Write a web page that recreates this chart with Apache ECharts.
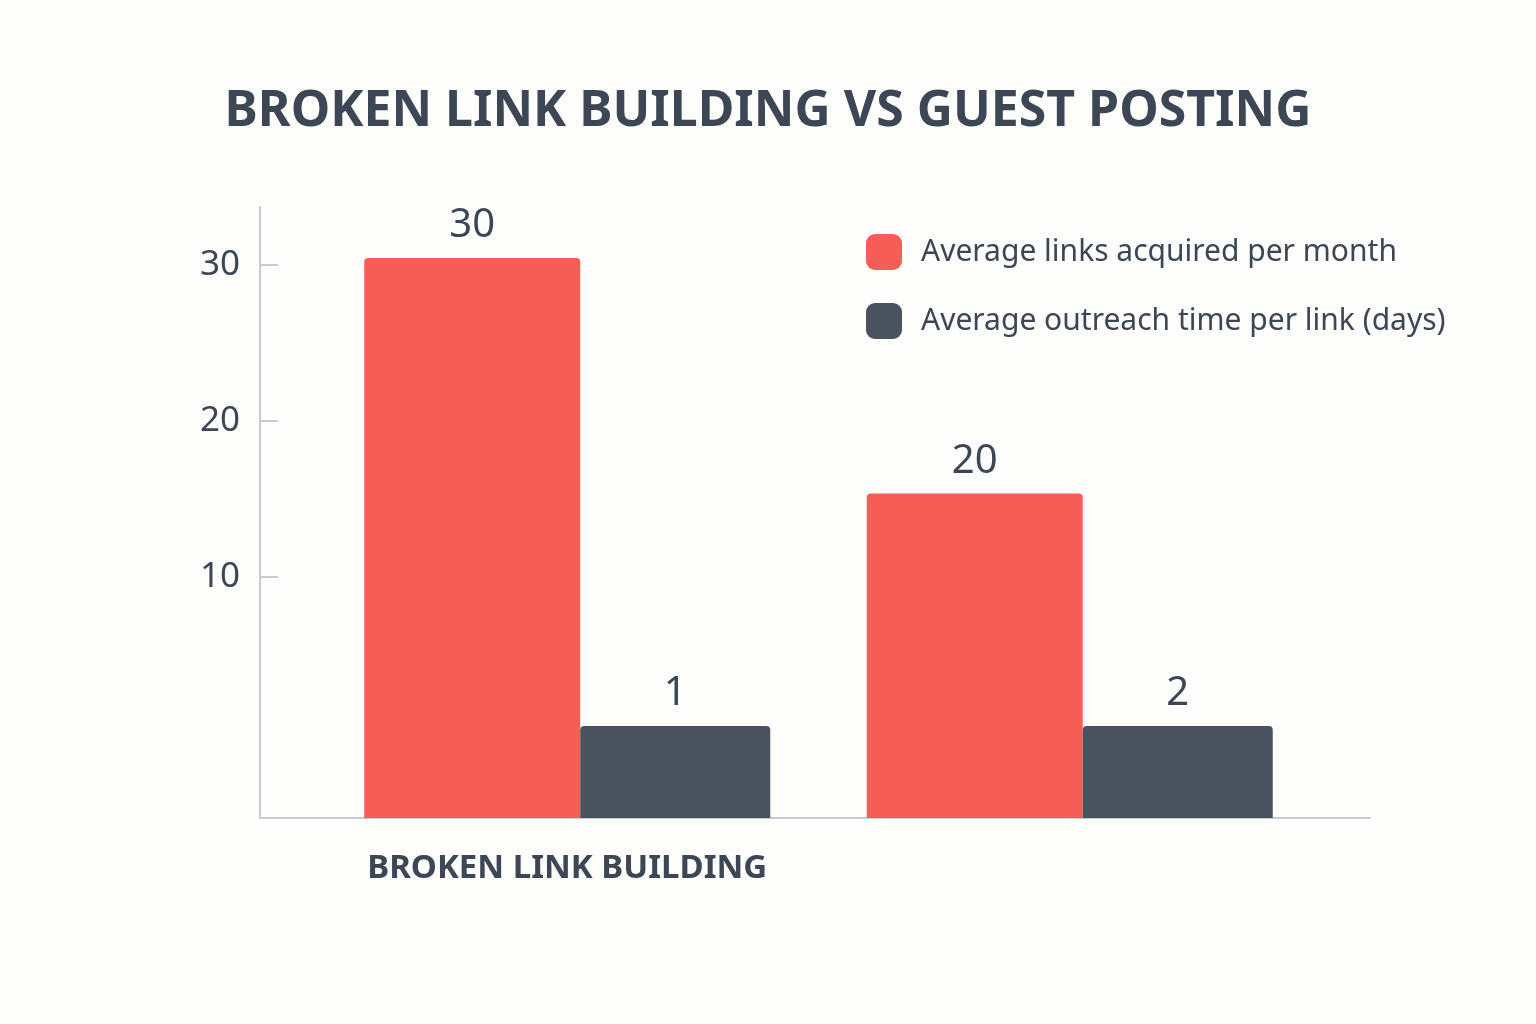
<!DOCTYPE html>
<html>
<head>
<meta charset="utf-8">
<script src="https://cdn.jsdelivr.net/npm/echarts@6/dist/echarts.min.js"></script>
<style>html,body{margin:0;background:#fdfdfc}#main{width:1536px;height:1024px}</style>
</head>
<body>
<div id="main"></div>
<script>
// values as labelled in the picture
var categories = ['BROKEN LINK BUILDING', 'GUEST POSTING'];
var linksLabels = [30, 20];
var timeLabels = [1, 2];
// bar heights as drawn (picture axis units, baseline = 0, offset 5.45)
var linksHeights = [35.9, 20.8];
var timeHeights = [5.9, 5.9];
var axisOffset = 5.45;
var tickValues = [15.45, 25.45, 35.45];

var myChart = echarts.init(document.getElementById('main'));
var font = '"Noto Sans", "Open Sans", sans-serif';
var yMax = 39.17;
var options = {
	backgroundColor: '#fdfdfc',
	title: {
		text: 'BROKEN LINK BUILDING VS GUEST POSTING',
		left: 'center',
		top: 82,
		textStyle: {fontFamily: font, fontSize: 50, fontWeight: 'bold', color: '#3d4654'}
	},
	legend: {
		left: 861,
		top: 229,
		orient: 'vertical',
		itemWidth: 36,
		itemHeight: 36,
		itemGap: 33,
		icon: 'roundRect',
		textStyle: {fontFamily: font, fontSize: 30, color: '#3d4654', padding: [0, 0, 0, 14]},
		data: ['Average links acquired per month', 'Average outreach time per link (days)']
	},
	grid: [
		{left: 260, right: 166, top: 207, bottom: 206},	// axis frame
		{left: 316, right: 215, top: 207, bottom: 206}	// bars
	],
	xAxis: [
		{
			type: 'category', gridIndex: 0, data: categories,
			axisLine: {lineStyle: {color: '#c8cbd0', width: 2}},
			axisTick: {show: false}, axisLabel: {show: false}
		},
		{
			type: 'category', gridIndex: 1, data: categories,
			axisLine: {show: false}, axisTick: {show: false},
			axisLabel: {fontFamily: font, fontSize: 33, fontWeight: 'bold', color: '#3d4654', margin: 34}
		}
	],
	yAxis: [
		{
			type: 'value', gridIndex: 0, min: 0, max: yMax,
			splitLine: {show: false},
			axisLine: {show: true, lineStyle: {color: '#c8cbd0', width: 2}},
			axisTick: {show: true, length: 18, inside: true, customValues: tickValues, lineStyle: {color: '#c8cbd0', width: 2}},
			axisLabel: {
				customValues: tickValues,
				fontFamily: font, fontSize: 35, color: '#3d4654', margin: 20,
				formatter: function (v) { return Math.round(v - axisOffset); }
			}
		},
		{
			type: 'value', gridIndex: 1, min: 0, max: yMax, show: false
		}
	],
	series: [
		{
			name: 'Average links acquired per month',
			type: 'bar', xAxisIndex: 1, yAxisIndex: 1,
			data: linksHeights,
			barWidth: 216,
			barGap: '0%',
			itemStyle: {color: '#f65d57', borderRadius: [4, 4, 0, 0]},
			label: {
				show: true, position: 'top', distance: 12,
				fontFamily: font, fontSize: 40, color: '#3d4654',
				formatter: function (p) { return linksLabels[p.dataIndex]; }
			}
		},
		{
			name: 'Average outreach time per link (days)',
			type: 'bar', xAxisIndex: 1, yAxisIndex: 1,
			data: timeHeights,
			barWidth: 190,
			itemStyle: {color: '#4a5260', borderRadius: [4, 4, 0, 0]},
			label: {
				show: true, position: 'top', distance: 12,
				fontFamily: font, fontSize: 40, color: '#3d4654',
				formatter: function (p) { return timeLabels[p.dataIndex]; }
			}
		}
	]
};
myChart.setOption(options);
</script>
</body>
</html>
